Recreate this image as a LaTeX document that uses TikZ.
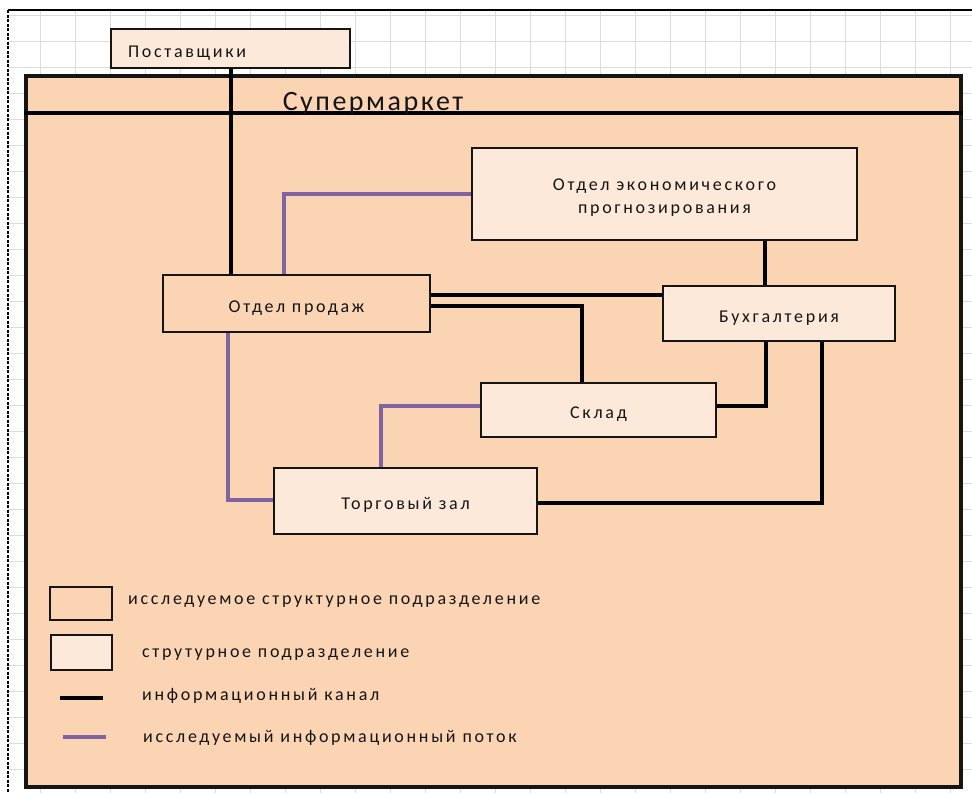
\documentclass[tikz,border=0pt]{standalone}
\usepackage{fontspec}
\setmainfont{Carlito}[LetterSpace=15]
\newfontfamily\titlefont{Carlito}[LetterSpace=9]
\definecolor{darkfill}{HTML}{FBD4B4}
\definecolor{lightfill}{HTML}{FDE9D9}
\definecolor{flowcol}{HTML}{8064A2}
\definecolor{gridcol}{HTML}{DCDCDC}
\definecolor{inkcol}{HTML}{151515}
\begin{document}
\begin{tikzpicture}[x=1pt,y=-1pt,
  unitbox/.style={draw=inkcol, line width=2.8pt, inner sep=0pt, align=center, text=inkcol,
    font=\fontsize{18}{23}\selectfont, text depth=0pt},
  oneline/.style={text height=17pt},
  studied/.style={unitbox, fill=darkfill},
  plainunit/.style={unitbox, fill=lightfill},
  chan/.style={line width=4pt, black},
  flow/.style={line width=3.8pt, flowcol},
  legtext/.style={anchor=base west, inner sep=0pt, text=inkcol, font=\fontsize{18}{20}\selectfont},
]
\useasboundingbox (0,0) rectangle (972,793);
\fill[white] (0,0) rectangle (972,793);
% spreadsheet grid
\begin{scope}
  \clip (8,10) rectangle (972,793);
  \foreach \x in {40,75,...,972} \draw[gridcol, line width=0.8pt] (\x,10) -- (\x,793);
  \foreach \y in {15,41,...,793} \draw[gridcol, line width=0.8pt] (8,\y) -- (972,\y);
\end{scope}
\draw[black, line width=1.2pt] (8,10) -- (972,10);
\draw[black, line width=2.5pt, dash pattern=on 3pt off 1.5pt] (8,10) -- (8,793);

% supermarket frame
\node[draw=inkcol, line width=3.8pt, fill=darkfill, inner sep=0pt,
      minimum width=935pt, minimum height=711pt] (sup) at (493.5,431.5) {};
\draw[chan] ([yshift=-39pt]sup.north west) -- ([yshift=-39pt]sup.north east);
\node[anchor=base, inner sep=0pt, text=inkcol, font=\titlefont\fontsize{28}{30}\selectfont]
  (title) at (373,110) {Супермаркет};

% units
\node[plainunit, oneline, minimum width=239pt, minimum height=39pt, text width=205pt, align=left,
      inner xsep=17pt] (post) at (230.5,48.5) {Поставщики};
\node[studied, oneline, minimum width=267pt, minimum height=57pt] (prod) at (296.5,303.5) {Отдел продаж};
\node[plainunit, text height=38pt, minimum width=385pt, minimum height=92pt] (econ) at (664.5,194)
  {Отдел экономического\\прогнозирования};
\node[plainunit, oneline, minimum width=232pt, minimum height=55pt] (buh) at (779,313.5) {Бухгалтерия};
\node[plainunit, oneline, minimum width=235pt, minimum height=54pt] (sklad) at (598.5,410) {Склад};
\node[plainunit, oneline, minimum width=263pt, minimum height=66pt] (zal) at (405.5,501) {Торговый зал};

% information channels
\draw[chan] (post.south) -- (post.south |- prod.north);
\draw[chan] ([xshift=-14pt]buh.north) -- ([xshift=-14pt]buh.north |- econ.south);
\draw[chan] ([yshift=8.5pt]prod.east) -- ([yshift=8.5pt]prod.east -| buh.west);
\draw[chan] ([yshift=-2.5pt]prod.east) -| ([xshift=-16.5pt]sklad.north);
\draw[chan] ([xshift=-13pt]buh.south) |- ([yshift=4pt]sklad.east);
\draw[chan] ([xshift=43pt]buh.south) |- ([yshift=-2pt]zal.east);

% studied information flows
\draw[flow] (econ.west) -| ([xshift=-12.5pt]prod.north);
\draw[flow] ([yshift=4pt]sklad.west) -| ([xshift=-24.5pt]zal.north);
\draw[flow] ([xshift=-68.5pt]prod.south) |- ([yshift=1pt]zal.west);

% legend
\node[studied, minimum width=62pt, minimum height=33pt] (lg1) at (81,603.5) {};
\node[legtext] (lt1) at (128,604) {исследуемое структурное подразделение};
\node[plainunit, minimum width=61pt, minimum height=35pt] (lg2) at (81.5,652.5) {};
\node[legtext] (lt2) at (142,657) {струтурное подразделение};
\coordinate (lc1) at (60,698);
\coordinate (lc2) at (103,698);
\draw[chan] (lc1) -- (lc2);
\node[legtext] (lt3) at (142,700) {информационный канал};
\coordinate (lf1) at (63,737);
\coordinate (lf2) at (106,737);
\draw[flow] (lf1) -- (lf2);
\node[legtext] (lt4) at (143,742) {исследуемый информационный поток};
\end{tikzpicture}
\end{document}
